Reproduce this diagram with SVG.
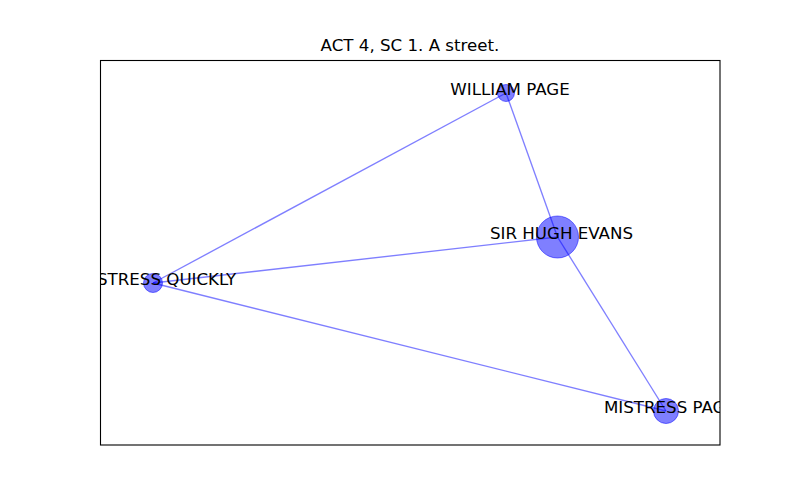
<svg xmlns="http://www.w3.org/2000/svg" width="800" height="500" viewBox="0 0 800 500">
<style>
text{font-family:"DejaVu Sans","Liberation Sans",sans-serif;font-size:16.67px;fill:#000}
.lbl{text-anchor:middle}
.edge{stroke:#0000ff;stroke-opacity:0.5;stroke-width:1.35;fill:none}
.node{fill:#0000ff;fill-opacity:0.5;stroke:#0000ff;stroke-opacity:0.5;stroke-width:1}
</style>
<defs>
<clipPath id="ax"><rect x="100.5" y="60.5" width="619.5" height="384.5"/></clipPath>
</defs>
<rect width="800" height="500" fill="#fff"/>
<text x="410" y="51" class="lbl">ACT 4, SC 1. A street.</text>
<g id="edges">
<line class="edge" x1="506" y1="93" x2="557.5" y2="237"/>
<line class="edge" x1="506" y1="93" x2="153" y2="283"/>
<line class="edge" x1="557.5" y1="237" x2="153" y2="283"/>
<line class="edge" x1="557.5" y1="237" x2="666" y2="411"/>
<line class="edge" x1="153" y1="283" x2="666" y2="411"/>
</g>
<g id="william-page">
<circle class="node" cx="506" cy="93" r="8.5"/>
<text class="lbl" x="510" y="95" clip-path="url(#ax)">WILLIAM PAGE</text>
</g>
<g id="sir-hugh-evans">
<circle class="node" cx="557.5" cy="237" r="21"/>
<text class="lbl" x="561.5" y="238.5" clip-path="url(#ax)">SIR HUGH EVANS</text>
</g>
<g id="mistress-quickly">
<circle class="node" cx="153" cy="283" r="9.5"/>
<text class="lbl" x="157" y="284.5" clip-path="url(#ax)">MISTRESS QUICKLY</text>
</g>
<g id="mistress-page">
<circle class="node" cx="666" cy="411" r="12.5"/>
<text class="lbl" x="670" y="413" clip-path="url(#ax)">MISTRESS PAGE</text>
</g>
<rect x="100.5" y="60.5" width="619.5" height="384.5" fill="none" stroke="#000" stroke-width="1.1"/>
</svg>
